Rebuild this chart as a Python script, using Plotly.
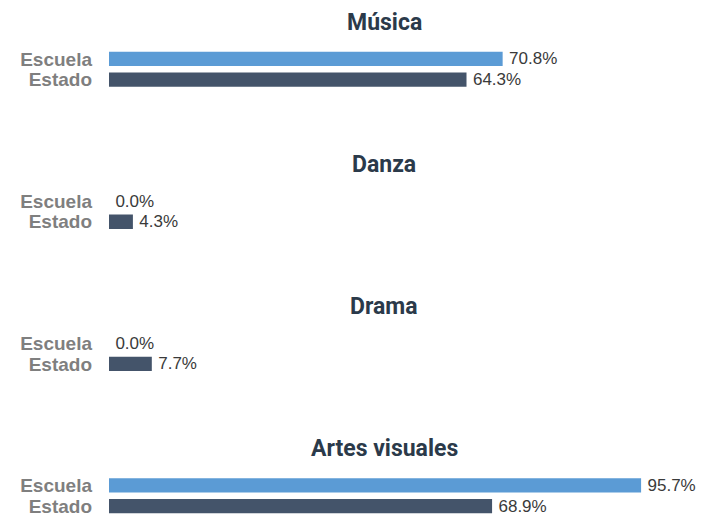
import plotly.graph_objects as go
from plotly.subplots import make_subplots

# data
subjects = ['Música', 'Danza', 'Drama', 'Artes visuales']
groups = ['Escuela', 'Estado']
escuela = [70.8, 0.0, 0.0, 95.7]
estado = [64.3, 4.3, 7.7, 68.9]

COLORS = {'Escuela': '#5b9bd5', 'Estado': '#44546a'}
# page body has an 8px margin, so the figure starts 8px in
W, H = 688, 510
PANEL_STEP = 142.2   # px between panels
BAR_TOP = 40.5       # px top of first panel plot area
BAR_BOTTOM = 81.9
TITLE_Y = 14


def px_to_paper(y_px):
    return 1 - y_px / H


def build_figure():
    fig = make_subplots(rows=len(subjects), cols=1)
    for i, subject in enumerate(subjects):
        vals = {'Escuela': escuela[i], 'Estado': estado[i]}
        for g in groups:
            fig.add_trace(go.Bar(
                x=[vals[g]], y=[g], orientation='h',
                marker=dict(color=COLORS[g], line=dict(width=0)),
                text=[f'\u2009{vals[g]:.1f}%'], textposition='outside',
                constraintext='none',
                textfont=dict(family='Liberation Sans, Arial', size=17, color='#3a3a3a'),
                cliponaxis=False, showlegend=False, hoverinfo='skip',
            ), row=i + 1, col=1)

        top = BAR_TOP + PANEL_STEP * i
        bottom = BAR_BOTTOM + PANEL_STEP * i
        n = '' if i == 0 else str(i + 1)
        fig.layout['yaxis' + n].update(
            domain=[max(0, px_to_paper(bottom)), px_to_paper(top)],
            categoryorder='array', categoryarray=groups,
            tickmode='array', tickvals=groups, ticktext=groups,
            range=[1.5, -0.5], showgrid=False, zeroline=False, showline=False,
            ticks='', ticklabelstandoff=16,
            tickfont=dict(family='Liberation Sans, Arial', size=19, color='#7f7f7f', weight='bold'),
        )
        fig.layout['xaxis' + n].update(
            range=[0, 100], visible=False, showgrid=False, zeroline=False,
        )
        fig.add_annotation(
            text=f'<b>{subject}</b>', xref='paper', yref='paper',
            x=0.495, y=px_to_paper(TITLE_Y + PANEL_STEP * i),
            xanchor='center', yanchor='middle', showarrow=False, borderpad=0,
            font=dict(family='Roboto', size=23, color='#2b3a4a'),
        )

    fig.update_layout(
        width=W, height=H,
        margin=dict(l=101, r=31, t=0, b=0),
        plot_bgcolor='white', paper_bgcolor='white',
        bargap=0.31,
    )
    return fig


fig = build_figure()
fig.write_html('out.html')
